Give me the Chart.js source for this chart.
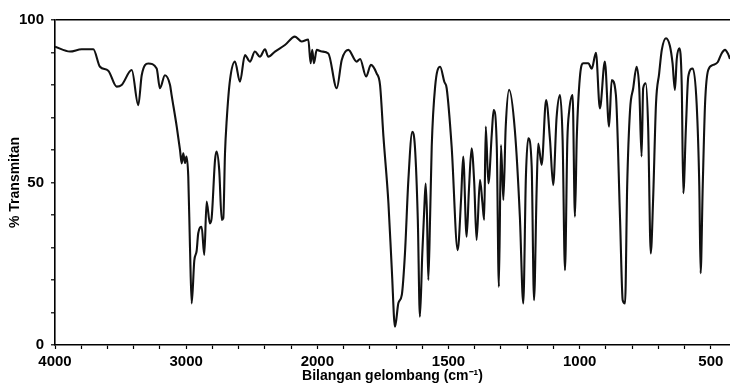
<!DOCTYPE html>
<html>
<head>
<meta charset="utf-8">
<script src="https://cdn.jsdelivr.net/npm/chart.js@4/dist/chart.umd.min.js"></script>
<style>
  html, body { margin: 0; padding: 0; background: #fff; }
  #wrap { width: 730px; height: 385px; }
</style>
</head>
<body>
<div id="wrap"><canvas id="irChart" width="730" height="385"></canvas></div>
<script>
// IR spectrum: wavenumber (cm-1) and % transmittance
const wavenumber = [
  4000, 3886, 3797, 3708, 3657, 3594, 3530, 3492, 3415, 3365, 3339, 3289, 3225, 3200, 3162, 3123,
  3111, 3072, 3047, 3034, 3022, 3009, 2998, 2984, 2971, 2958, 2938, 2920, 2908, 2882, 2862, 2844,
  2819, 2806, 2780, 2768, 2748, 2729, 2717, 2704, 2691, 2666, 2628, 2590, 2552, 2514, 2476, 2438,
  2399, 2374, 2323, 2247, 2171, 2120, 2069, 2051, 2039, 2026, 2005,
  1983, 1958, 1926, 1907, 1882, 1850, 1837, 1814, 1796, 1774, 1761, 1748, 1729, 1716, 1704, 1691,
  1678, 1666, 1653, 1638, 1628, 1617, 1609, 1600, 1592, 1587, 1582, 1577, 1570, 1564, 1551, 1532,
  1516, 1507, 1488, 1465, 1452, 1444, 1431, 1422, 1412, 1402, 1393, 1380, 1371, 1364, 1358, 1348,
  1335, 1328, 1316, 1308, 1300, 1291, 1282, 1269, 1247, 1228, 1215, 1205, 1196, 1183, 1174, 1164,
  1158, 1145, 1128, 1113, 1101, 1088, 1075, 1065, 1056, 1047, 1040, 1027, 1018, 1011, 999, 986,
  967, 954, 938, 923, 904, 888, 878, 862, 846, 836, 827, 819, 808, 796, 783, 773,
  764, 758, 748, 739, 729, 720, 709, 697, 687, 671, 656, 646, 637, 630, 620, 611,
  605, 595, 586, 569, 554, 544, 539, 531, 522, 510, 491, 474, 459, 446, 434, 427
];
const transmittance = [
  91.8, 90.3, 91.0, 91.0, 85.6, 84.4, 79.5, 80.0, 84.6, 73.8, 83.0, 86.6, 85.1, 79.0, 83.0, 80.0,
  76.9, 67.2, 60.0, 55.9, 59.0, 56.0, 58.0, 51.8, 30.3, 12.8, 26.0, 29.0, 34.4, 36.4, 27.7, 44.1,
  37.4, 39.0, 56.9, 59.5, 53.8, 38.5, 39.0, 59.0, 69.2, 81.5, 87.2, 81.0, 89.2, 87.2, 90.3, 88.7,
  91.0, 88.7, 90.3, 92.3, 94.9, 93.4, 94.0, 86.7, 90.8, 86.7, 90.8,
  90.3, 89.7, 79.0, 87.7, 90.8, 87.2, 88.0, 82.6, 86.2, 83.6, 80.0, 64.1, 43.6, 23.0, 5.6, 12.9,
  15.4, 28.2, 50.8, 65.6, 61.0, 38.5, 8.7, 28.0, 42.6, 49.7, 40.0, 20.0, 40.0, 61.0, 79.5, 85.6,
  81.0, 79.0, 61.0, 29.2, 45.0, 58.0, 33.3, 48.0, 60.5, 50.0, 32.3, 50.8, 44.0, 38.5, 67.2, 49.7,
  65.0, 72.3, 61.0, 17.9, 61.5, 44.6, 67.0, 78.5, 66.0, 39.5, 12.8, 51.8, 63.6, 55.0, 13.8, 48.0,
  62.0, 55.4, 75.4, 63.0, 49.2, 70.0, 76.9, 63.0, 23.0, 63.0, 72.0, 76.9, 39.5, 64.0, 82.6, 86.7,
  86.7, 85.0, 89.9, 72.8, 87.2, 67.2, 81.5, 77.0, 38.5, 13.8, 12.8, 48.7, 72.3, 79.0, 85.6, 79.0,
  58.0, 79.0, 80.5, 67.0, 28.2, 45.0, 74.4, 83.6, 90.8, 94.4, 92.0, 86.7, 78.5, 88.0, 91.3, 80.0,
  46.7, 67.0, 82.6, 85.1, 74.0, 48.7, 22.1, 48.7, 74.4, 84.6, 86.2, 87.0, 89.7, 90.8, 89.5, 88.0
];

// axis ticks
const xMinorTicks = [4000, 3800, 3600, 3400, 3200, 3000, 2800, 2600, 2400, 2200, 2000,
  1900, 1800, 1700, 1600, 1500, 1400, 1300, 1200, 1100, 1000, 900, 800, 700, 600, 500];
const xLabels = [4000, 3000, 2000, 1500, 1000, 500];
const yMinorTicks = [0, 10, 20, 30, 40, 50, 60, 70, 80, 90, 100];
const yLabels = [0, 50, 100];

const SCALE_BREAK = 2000; // below this the axis is stretched 2x
const X_MIN = 427;
const X_MAX = 4000;

class WavenumberScale extends Chart.LinearScale {
  static id = 'wavenumber';
  static defaults = Chart.LinearScale.defaults;

  units(v) {
    return v <= SCALE_BREAK
      ? (v - this.min) * 2
      : (SCALE_BREAK - this.min) * 2 + (v - SCALE_BREAK);
  }
  getPixelForValue(value) {
    return this.getPixelForDecimal(this.units(value) / this.units(this.max));
  }
  getValueForPixel(pixel) {
    const u = this.getDecimalForPixel(pixel) * this.units(this.max);
    const b = (SCALE_BREAK - this.min) * 2;
    return u <= b ? this.min + u / 2 : SCALE_BREAK + (u - b);
  }
}
Chart.register(WavenumberScale);

const font = { family: "'Liberation Sans', Arial, sans-serif", weight: 'bold' };

const ctx = document.getElementById('irChart').getContext('2d');
new Chart(ctx, {
  type: 'line',
  data: {
    datasets: [{
      data: wavenumber.map((w, i) => ({ x: w, y: transmittance[i] })),
      borderColor: '#111',
      borderWidth: 2.1,
      pointRadius: 0,
      cubicInterpolationMode: 'monotone',
      fill: false
    }]
  },
  options: {
    responsive: false,
    animation: false,
    layout: { padding: { top: 20, right: 0, left: 0, bottom: 0 } },
    plugins: { legend: { display: false }, tooltip: { enabled: false } },
    scales: {
      x: {
        type: 'wavenumber',
        min: X_MIN,
        max: X_MAX,
        reverse: true,
        afterBuildTicks: (scale) => { scale.ticks = xMinorTicks.map(v => ({ value: v })); },
        afterFit: (scale) => { scale.height = 40; },
        border: { display: true, color: '#000', width: 1.6 },
        grid: { drawOnChartArea: false, drawTicks: true, tickLength: 4, tickColor: '#000', tickWidth: 1.2 },
        ticks: {
          autoSkip: false,
          maxRotation: 0,
          padding: 4,
          color: '#000',
          font: { ...font, size: 15 },
          callback: (v) => xLabels.includes(v) ? String(v) : ''
        },
        title: {
          display: true,
          text: 'Bilangan gelombang (cm⁻¹)',
          color: '#000',
          font: { ...font, size: 14 },
          padding: { top: -3, bottom: 0 }
        }
      },
      y: {
        min: 0,
        max: 100,
        afterBuildTicks: (scale) => { scale.ticks = yMinorTicks.map(v => ({ value: v })); },
        afterFit: (scale) => { scale.width = 55; },
        border: { display: true, color: '#000', width: 1.6 },
        grid: {
          drawTicks: true,
          tickLength: 4,
          tickColor: '#000',
          tickWidth: 1.2,
          lineWidth: 1.6,
          color: (c) => c.tick && c.tick.value === 100 ? '#000' : 'rgba(0,0,0,0)'
        },
        ticks: {
          autoSkip: false,
          padding: 7,
          color: '#000',
          font: { ...font, size: 15 },
          callback: (v) => yLabels.includes(v) ? String(v) : ''
        },
        title: {
          display: true,
          text: '% Transmitan',
          color: '#000',
          font: { ...font, size: 14 },
          padding: { top: 7, bottom: 0 }
        }
      }
    }
  }
});
</script>
</body>
</html>
